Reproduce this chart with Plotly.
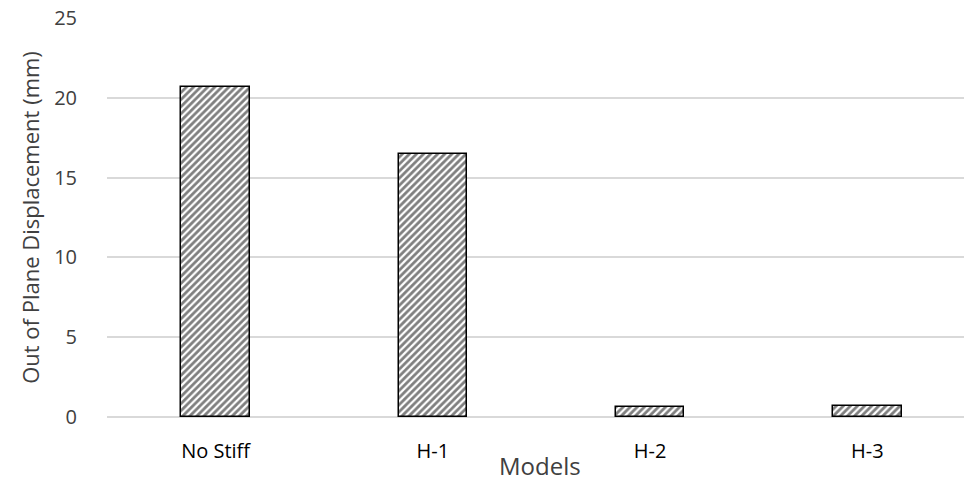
import plotly.graph_objects as go

categories = ["No Stiff", "H-1", "H-2", "H-3"]
values = [20.7, 16.5, 0.6, 0.7]
y_ticks = [0, 5, 10, 15, 20, 25]

fig = go.Figure()
fig.add_trace(go.Bar(
    x=categories, y=values, width=0.315,
    marker=dict(color="white", line=dict(color="black", width=1.5),
                pattern=dict(shape="/", fgcolor="black", bgcolor="white", size=5, solidity=0.55)),
))
fig.update_layout(
    width=964, height=483,
    margin=dict(l=107, r=0, t=18, b=66),
    plot_bgcolor="white", paper_bgcolor="white",
    font=dict(family="Open Sans", color="#404040"),
    showlegend=False,
    bargap=0,
)
fig.add_annotation(
    text="Models", xref="paper", yref="paper", x=(540 - 107) / 857, y=-(483 - 417) / 399,
    xanchor="center", yanchor="bottom", showarrow=False,
    font=dict(size=24, color="#404040"), borderpad=0,
)
fig.update_xaxes(
    range=[-0.5, 3.445], showgrid=False, showline=False, zeroline=False,
    tickfont=dict(size=20, color="#000000"), ticks="outside", ticklen=16, tickcolor="rgba(0,0,0,0)",
    automargin=False,
)
fig.update_yaxes(
    range=[0, 25], tickvals=y_ticks, showgrid=True, gridcolor="#d9d9d9", gridwidth=1.5,
    zeroline=True, zerolinecolor="#d9d9d9", zerolinewidth=1.5,
    tickfont=dict(size=20, color="#404040"), ticks="outside", ticklen=25, tickcolor="rgba(0,0,0,0)",
    title=dict(text="Out of Plane Displacement (mm)", font=dict(size=22, color="#404040"), standoff=8),
    automargin=False,
)
fig.write_html("out.html", config={"displayModeBar": False},
               post_script="document.body.style.margin='0';")
